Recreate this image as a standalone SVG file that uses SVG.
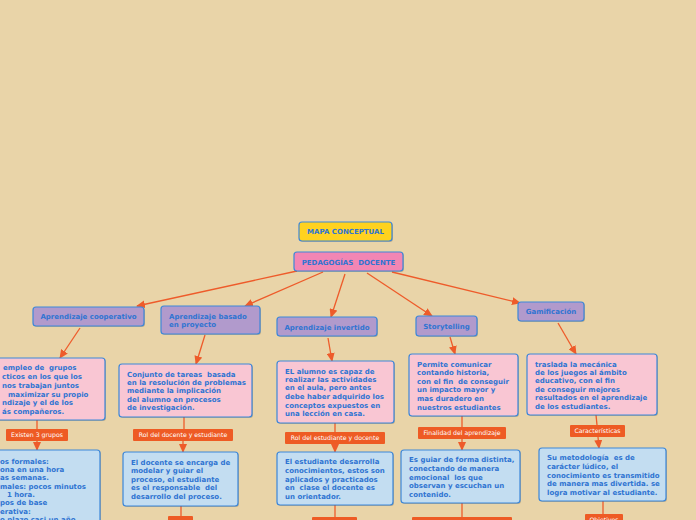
<svg xmlns="http://www.w3.org/2000/svg" width="696" height="520" viewBox="0 0 696 520">
<defs>
<marker id="ah" markerUnits="userSpaceOnUse" markerWidth="9" markerHeight="8" refX="8" refY="4" orient="auto">
<path d="M0,0 L9,4 L0,8 Z" fill="#EE5B2A"/>
</marker>
<style>
.bg{fill:#E9D4A8}
.box{stroke:#3C87D9;stroke-width:1.2}
.sh{fill:#000;opacity:0.18}
.title{fill:#FFD21F}
.main{fill:#F286B4}
.l1{fill:#B19ACC}
.pk{fill:#F9C6D3}
.bl{fill:#C3DDF1}
.lab{fill:#EE5B24}
.t{font-family:"DejaVu Sans",Verdana,sans-serif;font-weight:bold;font-size:7px;fill:#2F74D2}
.c{text-anchor:middle}
.lt{font-family:"DejaVu Sans",Verdana,sans-serif;font-size:6.2px;fill:#FFFFFF;text-anchor:middle}
.con{stroke:#EE5B2A;stroke-width:1.3;fill:none}
</style>
</defs>
<rect class="bg" x="0" y="0" width="696" height="520"/>

<g id="connectors">
<line class="con" x1="297" y1="271" x2="137" y2="306" marker-end="url(#ah)"/>
<line class="con" x1="323" y1="272" x2="245" y2="306" marker-end="url(#ah)"/>
<line class="con" x1="345" y1="274" x2="331" y2="317" marker-end="url(#ah)"/>
<line class="con" x1="367" y1="273" x2="432" y2="316" marker-end="url(#ah)"/>
<line class="con" x1="392" y1="272" x2="520" y2="303" marker-end="url(#ah)"/>
<line class="con" x1="80" y1="328" x2="60" y2="358" marker-end="url(#ah)"/>
<line class="con" x1="205" y1="335" x2="196" y2="364" marker-end="url(#ah)"/>
<line class="con" x1="328" y1="338" x2="332" y2="361" marker-end="url(#ah)"/>
<line class="con" x1="450" y1="337" x2="455" y2="354" marker-end="url(#ah)"/>
<line class="con" x1="558" y1="323" x2="576" y2="354" marker-end="url(#ah)"/>
<line class="con" x1="37" y1="420" x2="37" y2="429"/>
<line class="con" x1="37" y1="441" x2="37" y2="450" marker-end="url(#ah)"/>
<line class="con" x1="184" y1="417" x2="184" y2="429"/>
<line class="con" x1="183" y1="441" x2="183" y2="452" marker-end="url(#ah)"/>
<line class="con" x1="335" y1="423" x2="335" y2="432"/>
<line class="con" x1="335" y1="444" x2="335" y2="452" marker-end="url(#ah)"/>
<line class="con" x1="462" y1="416" x2="462" y2="427"/>
<line class="con" x1="462" y1="439" x2="462" y2="450" marker-end="url(#ah)"/>
<line class="con" x1="596" y1="415" x2="597" y2="425"/>
<line class="con" x1="598" y1="437" x2="599" y2="448" marker-end="url(#ah)"/>
<line class="con" x1="181" y1="506" x2="181" y2="516"/>
<line class="con" x1="335" y1="505" x2="335" y2="517"/>
<line class="con" x1="462" y1="503" x2="462" y2="517"/>
<line class="con" x1="603" y1="501" x2="603" y2="514"/>
</g>

<g id="title">
<rect class="sh" x="300" y="223" width="93" height="19" rx="3"/>
<rect class="box title" x="299" y="222" width="93" height="19" rx="3"/>
<text class="t c" x="345.5" y="234">MAPA CONCEPTUAL</text>
</g>
<g id="pedagogias">
<rect class="sh" x="295" y="253" width="109" height="19" rx="3"/>
<rect class="box main" x="294" y="252" width="109" height="19" rx="3"/>
<text class="t c" x="348.5" y="264.5" xml:space="preserve">PEDAGOGÍAS  DOCENTE</text>
</g>

<g id="cooperativo">
<rect class="sh" x="34" y="308" width="111" height="19" rx="3"/>
<rect class="box l1" x="33" y="307" width="111" height="19" rx="3"/>
<text class="t c" x="88.5" y="319">Aprendizaje cooperativo</text>
</g>
<g id="proyecto">
<rect class="sh" x="162" y="307" width="99" height="28" rx="3"/>
<rect class="box l1" x="161" y="306" width="99" height="28" rx="3"/>
<text class="t" x="169" y="319">Aprendizaje basado</text>
<text class="t" x="169" y="327">en proyecto</text>
</g>
<g id="invertido">
<rect class="sh" x="278" y="318" width="100" height="19" rx="3"/>
<rect class="box l1" x="277" y="317" width="100" height="19" rx="3"/>
<text class="t c" x="327" y="329.5">Aprendizaje invertido</text>
</g>
<g id="storytelling">
<rect class="sh" x="417" y="317" width="61" height="20" rx="3"/>
<rect class="box l1" x="416" y="316" width="61" height="20" rx="3"/>
<text class="t c" x="446.5" y="328.5">Storytelling</text>
</g>
<g id="gamificacion">
<rect class="sh" x="519" y="303" width="66" height="19" rx="3"/>
<rect class="box l1" x="518" y="302" width="66" height="19" rx="3"/>
<text class="t c" x="551" y="314">Gamificación</text>
</g>

<g id="coop-def">
<rect class="sh" x="-4" y="359" width="110" height="62" rx="3"/>
<rect class="box pk" x="-5" y="358" width="110" height="62" rx="3"/>
<text class="t" x="3" y="369.5" xml:space="preserve">empleo de  grupos</text>
<text class="t" x="2" y="378.5">cticos en los que los</text>
<text class="t" x="2" y="387.5">nos trabajan juntos</text>
<text class="t" x="8" y="396.5">maximizar su propio</text>
<text class="t" x="2" y="404.5">ndizaje y el de los</text>
<text class="t" x="2" y="413.5">ás compañeros.</text>
</g>
<g id="coop-label">
<rect class="lab" x="6" y="429" width="62" height="12" rx="1"/>
<text class="lt" x="37" y="437.2">Existen 3 grupos</text>
</g>
<g id="coop-grupos">
<rect class="sh" x="-4" y="451" width="105" height="80" rx="3"/>
<rect class="box bl" x="-5" y="450" width="105" height="80" rx="3"/>
<text class="t" x="0" y="463.5">os formales:</text>
<text class="t" x="0" y="471.5">ona en una hora</text>
<text class="t" x="0" y="480">as semanas.</text>
<text class="t" x="0" y="488.5">males: pocos minutos</text>
<text class="t" x="7" y="497">1 hora.</text>
<text class="t" x="0" y="505">pos de base</text>
<text class="t" x="0" y="513.5">erativa:</text>
<text class="t" x="0" y="522">o plazo casi un año</text>
</g>

<g id="proy-def">
<rect class="sh" x="120" y="365" width="133" height="53" rx="3"/>
<rect class="box pk" x="119" y="364" width="133" height="53" rx="3"/>
<text class="t" x="127" y="376.5" xml:space="preserve">Conjunto de tareas  basada</text>
<text class="t" x="127" y="384.5">en la resolución de problemas</text>
<text class="t" x="127" y="393">mediante la implicación</text>
<text class="t" x="127" y="401.5">del alumno en procesos</text>
<text class="t" x="127" y="410">de investigación.</text>
</g>
<g id="proy-label">
<rect class="lab" x="133" y="429" width="100" height="12" rx="1"/>
<text class="lt" x="183" y="437.2">Rol del docente y estudiante</text>
</g>
<g id="proy-rol">
<rect class="sh" x="124" y="453" width="115" height="54" rx="3"/>
<rect class="box bl" x="123" y="452" width="115" height="54" rx="3"/>
<text class="t" x="131" y="464.5">El docente se encarga de</text>
<text class="t" x="131" y="473">modelar y guiar el</text>
<text class="t" x="131" y="481.5">proceso, el estudiante</text>
<text class="t" x="131" y="490" xml:space="preserve">es el responsable  del</text>
<text class="t" x="131" y="498.5">desarrollo del proceso.</text>
</g>
<g id="proy-next">
<rect class="lab" x="168" y="516" width="25" height="12" rx="1"/>
</g>

<g id="inv-def">
<rect class="sh" x="278" y="362" width="117" height="62" rx="3"/>
<rect class="box pk" x="277" y="361" width="117" height="62" rx="3"/>
<text class="t" x="285" y="373.5">EL alumno es capaz de</text>
<text class="t" x="285" y="381.5">realizar las actividades</text>
<text class="t" x="285" y="390">en el aula, pero antes</text>
<text class="t" x="285" y="399">debe haber adquirido los</text>
<text class="t" x="285" y="407.5">conceptos expuestos en</text>
<text class="t" x="285" y="416">una lección en casa.</text>
</g>
<g id="inv-label">
<rect class="lab" x="285" y="432" width="100" height="12" rx="1"/>
<text class="lt" x="335" y="440.2">Rol del estudiante y docente</text>
</g>
<g id="inv-rol">
<rect class="sh" x="278" y="453" width="116" height="53" rx="3"/>
<rect class="box bl" x="277" y="452" width="116" height="53" rx="3"/>
<text class="t" x="285" y="464">El estudiante desarrolla</text>
<text class="t" x="285" y="473">conocimientos, estos son</text>
<text class="t" x="285" y="481.5">aplicados y practicados</text>
<text class="t" x="285" y="490" xml:space="preserve">en  clase el docente es</text>
<text class="t" x="285" y="499">un orientador.</text>
</g>
<g id="inv-next">
<rect class="lab" x="312" y="517" width="45" height="12" rx="1"/>
</g>

<g id="story-def">
<rect class="sh" x="410" y="355" width="109" height="62" rx="3"/>
<rect class="box pk" x="409" y="354" width="109" height="62" rx="3"/>
<text class="t" x="417" y="366.5">Permite comunicar</text>
<text class="t" x="417" y="374.5">contando historia,</text>
<text class="t" x="417" y="383.5" xml:space="preserve">con el fin  de conseguir</text>
<text class="t" x="417" y="392">un impacto mayor y</text>
<text class="t" x="417" y="401">mas duradero en</text>
<text class="t" x="417" y="409.5">nuestros estudiantes</text>
</g>
<g id="story-label">
<rect class="lab" x="418" y="427" width="88" height="12" rx="1"/>
<text class="lt" x="462" y="435.2">Finalidad del aprendizaje</text>
</g>
<g id="story-fin">
<rect class="sh" x="402" y="451" width="119" height="53" rx="3"/>
<rect class="box bl" x="401" y="450" width="119" height="53" rx="3"/>
<text class="t" x="409" y="462">Es guiar de forma distinta,</text>
<text class="t" x="409" y="471">conectando de manera</text>
<text class="t" x="409" y="479.5" xml:space="preserve">emocional  los que</text>
<text class="t" x="409" y="488">observan y escuchan un</text>
<text class="t" x="409" y="496.5">contenido.</text>
</g>
<g id="story-next">
<rect class="lab" x="412" y="517" width="100" height="12" rx="1"/>
</g>

<g id="gam-def">
<rect class="sh" x="528" y="355" width="130" height="61" rx="3"/>
<rect class="box pk" x="527" y="354" width="130" height="61" rx="3"/>
<text class="t" x="535" y="366.5">traslada la mecánica</text>
<text class="t" x="535" y="374.5">de los juegos al ámbito</text>
<text class="t" x="535" y="383">educativo, con el fin</text>
<text class="t" x="535" y="391.5">de conseguir mejores</text>
<text class="t" x="535" y="400">resultados en el aprendizaje</text>
<text class="t" x="535" y="408.5">de los estudiantes.</text>
</g>
<g id="gam-label">
<rect class="lab" x="570" y="425" width="55" height="12" rx="1"/>
<text class="lt" x="597.5" y="433.2">Características</text>
</g>
<g id="gam-car">
<rect class="sh" x="540" y="449" width="127" height="53" rx="3"/>
<rect class="box bl" x="539" y="448" width="127" height="53" rx="3"/>
<text class="t" x="547" y="460" xml:space="preserve">Su metodología  es de</text>
<text class="t" x="547" y="469">carácter lúdico, el</text>
<text class="t" x="547" y="477.5">conocimiento es transmitido</text>
<text class="t" x="547" y="486">de manera mas divertida. se</text>
<text class="t" x="547" y="494.5">logra motivar al estudiante.</text>
</g>
<g id="gam-next">
<rect class="lab" x="585" y="514" width="38" height="12" rx="1"/>
<text class="lt" x="604" y="522">Objetivos</text>
</g>
</svg>
